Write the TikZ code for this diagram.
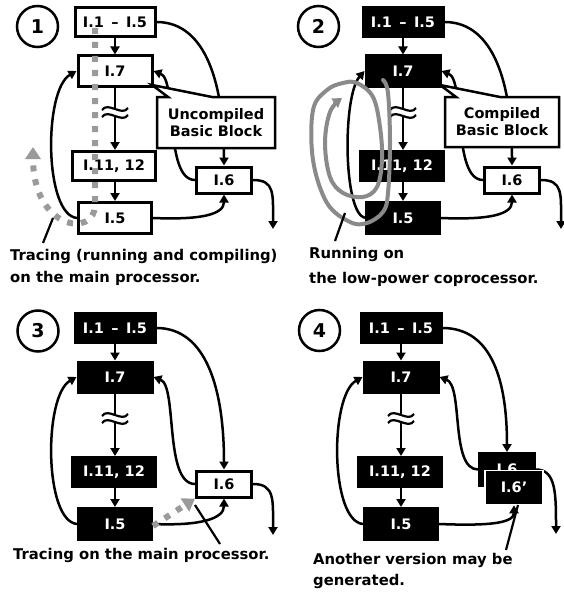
\documentclass[tikz,border=0pt]{standalone}
\usepackage{fontspec}
\setmainfont{DejaVu Sans}
\usetikzlibrary{arrows.meta,backgrounds}
\definecolor{ink}{HTML}{000000}
\definecolor{tracegray}{HTML}{9A9A9A}
\definecolor{loopgray}{HTML}{8A8A8A}
\tikzset{
  codebox/.style={draw=ink,fill=white,text=ink,line width=3pt,
                  inner sep=0pt,align=center,
                  font=\fontsize{14.5}{17}\selectfont\bfseries},
  hotbox/.style={codebox,fill=ink,text=white},
  numcirc/.style={draw=ink,circle,line width=2.5pt,minimum size=41pt,
                  inner sep=0pt,font=\fontsize{19}{19}\selectfont\bfseries},
  notetext/.style={align=left,inner sep=0pt,anchor=base west,
                   font=\fontsize{14.8}{22}\selectfont\bfseries},
  calloutln/.style={draw=ink,fill=white,line width=2.5pt,line join=miter},
  flowln/.style={line width=2.5pt,draw=ink},
  flowarr/.style={flowln,-{Triangle[length=8pt,width=9pt]}},
  breakln/.style={line width=2.2pt,draw=ink},
  ptrln/.style={line width=2.2pt,draw=ink},
  tracearr/.style={draw=tracegray,line width=6pt,line cap=butt,
                   dash pattern=on 6pt off 8pt,
                   -{Triangle[length=12pt,width=15pt]}},
  looparr/.style={draw=loopgray,line width=4pt,line cap=round,line join=round,
                  -{Triangle[length=9pt,width=11pt]}}
}
% two little waves across the line I.7 -> I.11
\newcommand{\breakmark}[1]{%
  \draw[breakln] (#1) ++(-13,1) .. controls +(6,-9) and +(-6,9) .. ++(26,-2);
  \draw[breakln] (#1) ++(-13,8) .. controls +(6,-9) and +(-6,9) .. ++(26,-2);
}
\newcommand{\range}{I.1\ \,–\ \,I.5}

\begin{document}
\begin{tikzpicture}[x=1pt,y=-1pt]
  \useasboundingbox (0,0) rectangle (563,594);
  \begin{scope}[on background layer]
    \fill[white] (0,0) rectangle (563,594);
  \end{scope}

  % ---------- 1 : tracing ----------
  \begin{scope}
    \node[numcirc] (n1) at (37.5,26.5) {1};
    \node[codebox,minimum width=80pt,minimum height=29pt] (p1a) at (115,22) {\range};
    \node[codebox,minimum width=74pt,minimum height=30pt] (p1b) at (115,71) {I.7};
    \node[codebox,minimum width=83pt,minimum height=29pt] (p1c) at (114,166) {I.11, 12};
    \node[codebox,minimum width=73pt,minimum height=31pt] (p1d) at (115,218) {I.5};
    \node[codebox,minimum width=55pt,minimum height=26pt] (p1e) at (224,180) {I.6};
    \coordinate (p1s) at (115,109);
    \coordinate (p1t) at (115,117);
    \coordinate (p1x) at (273,229);
    \begin{scope}[on background layer]
      \draw[flowarr] (p1a) -- (p1b);
      \draw[flowln] (p1b) -- (p1s);
      \draw[flowarr] (p1t) -- (p1t |- p1c.north);
      \draw[flowarr] (p1c.south -| p1d) -- (p1d);
      \draw[flowarr] (p1d.west) .. controls +(-33,-3) and +(-33,19) .. (p1b.west);
      \draw[flowarr] (p1d.east) .. controls +(48,2) and +(0,20) .. (p1e.south);
      \draw[flowarr] (p1a.east) .. controls +(50,0) and +(0,-80) .. (p1e.north);
      \draw[flowarr] (p1e.west) .. controls +(-31,0) and +(24,9) .. (p1b.east);
      \draw[flowarr] (p1e.east) .. controls +(22,0) and +(0,-35) .. (p1x);
    \end{scope}
    \breakmark{p1s}
    \draw[calloutln] (157,97) -- (168,97) -- (152,85) -- (212,97) -- (275,97)
      -- (275,148) -- (157,148) -- cycle;
    \node[codebox,draw=none,fill=none] (p1u) at (216,122.5) {Uncompiled\\Basic Block};
    \draw[tracearr] (95,28) -- (95,205) .. controls (95,238) and (33,230) .. (33,147);
    \draw[ptrln] (43,243) -- (53,218);
    \node[notetext] (p1n) at (10,282) {Tracing (running and compiling)\\on the main processor.};
  \end{scope}

  % ---------- 2 : running on coprocessor ----------
  \begin{scope}[shift={(288,0)}]
    \node[numcirc] (n2) at (30.5,26.5) {2};
    \node[hotbox,minimum width=80pt,minimum height=29pt] (p2a) at (115,22) {\range};
    \node[hotbox,minimum width=74pt,minimum height=30pt] (p2b) at (115,71) {I.7};
    \node[hotbox,minimum width=83pt,minimum height=29pt] (p2c) at (114,166) {I.11, 12};
    \node[hotbox,minimum width=73pt,minimum height=31pt] (p2d) at (115,218) {I.5};
    \node[codebox,minimum width=55pt,minimum height=26pt] (p2e) at (224,180) {I.6};
    \coordinate (p2s) at (115,109);
    \coordinate (p2t) at (115,117);
    \coordinate (p2x) at (273,229);
    \begin{scope}[on background layer]
      \draw[flowarr] (p2a) -- (p2b);
      \draw[flowln] (p2b) -- (p2s);
      \draw[flowarr] (p2t) -- (p2t |- p2c.north);
      \draw[flowarr] (p2c.south -| p2d) -- (p2d);
      \draw[flowarr] (p2d.east) .. controls +(48,2) and +(0,20) .. (p2e.south);
      \draw[flowarr] (p2a.east) .. controls +(50,0) and +(0,-80) .. (p2e.north);
      \draw[flowarr] (p2e.west) .. controls +(-31,0) and +(24,9) .. (p2b.east);
      \draw[flowarr] (p2e.east) .. controls +(22,0) and +(0,-35) .. (p2x);
    \end{scope}
    \draw[flowarr] (p2d.west) .. controls +(-22,-5) and +(-22,25) .. (p2b.west);
    \breakmark{p2s}
    \draw[calloutln] (157,97) -- (168,97) -- (152,85) -- (212,97) -- (271,97)
      -- (271,147) -- (157,147) -- cycle;
    \node[codebox,draw=none,fill=none] (p2u) at (214,122) {Compiled\\Basic Block};
    \draw[looparr] plot[smooth,tension=0.6] coordinates {
      (95,80) (100,93) (102,143) (100,193) (95,212) (79,223) (62,222)
      (39,203) (25,160) (25,110) (39,90) (55,83) (69,83) (85,97) (92,127)
      (94,160) (89,187) (75,197) (55,193) (42,177) (37,143) (42,112) (54,98)};
    \draw[ptrln] (47,241) -- (57,213);
    \node[notetext,font=\fontsize{14.8}{25}\selectfont\bfseries] (p2n) at (21,283)
      {Running on\\the low-power coprocessor.};
  \end{scope}

  % ---------- 3 : tracing I.6 ----------
  \begin{scope}[shift={(0,306)}]
    \node[numcirc] (n3) at (38,25) {3};
    \node[hotbox,minimum width=80pt,minimum height=29pt] (p3a) at (115,22) {\range};
    \node[hotbox,minimum width=74pt,minimum height=30pt] (p3b) at (115,71) {I.7};
    \node[hotbox,minimum width=83pt,minimum height=29pt] (p3c) at (114,166) {I.11, 12};
    \node[hotbox,minimum width=73pt,minimum height=31pt] (p3d) at (115,218) {I.5};
    \node[codebox,minimum width=55pt,minimum height=26pt] (p3e) at (224,178) {I.6};
    \coordinate (p3s) at (115,109);
    \coordinate (p3t) at (115,117);
    \coordinate (p3x) at (273,229);
    \begin{scope}[on background layer]
      \draw[flowarr] (p3a) -- (p3b);
      \draw[flowln] (p3b) -- (p3s);
      \draw[flowarr] (p3t) -- (p3t |- p3c.north);
      \draw[flowarr] (p3c.south -| p3d) -- (p3d);
      \draw[flowarr] (p3d.west) .. controls +(-33,-3) and +(-33,19) .. (p3b.west);
      \draw[flowarr] (p3d.east) .. controls +(48,2) and +(0,20) .. (p3e.south);
      \draw[flowarr] (p3a.east) .. controls +(50,0) and +(0,-80) .. (p3e.north);
      \draw[flowarr] (p3e.west) .. controls +(-31,0) and +(24,9) .. (p3b.east);
      \draw[flowarr] (p3e.east) .. controls +(22,0) and +(0,-35) .. (p3x);
    \end{scope}
    \breakmark{p3s}
    \draw[tracearr] ([yshift=-2pt]p3d.east) -- (p3e.south west);
    \draw[ptrln] (220,238) -- (195,199);
    \node[notetext] (p3n) at (13,253) {Tracing on the main processor.};
  \end{scope}

  % ---------- 4 : new version ----------
  \begin{scope}[shift={(286,306)}]
    \node[numcirc] (n4) at (33.5,24.5) {4};
    \node[hotbox,minimum width=80pt,minimum height=29pt] (p4a) at (115,22) {\range};
    \node[hotbox,minimum width=74pt,minimum height=30pt] (p4b) at (115,71) {I.7};
    \node[hotbox,minimum width=83pt,minimum height=29pt] (p4c) at (114,166) {I.11, 12};
    \node[hotbox,minimum width=73pt,minimum height=31pt] (p4d) at (115,218) {I.5};
    \node[hotbox,minimum width=55pt,minimum height=32pt] (p4e) at (221,163.5) {I.6};
    \node[hotbox,draw=white,line width=1.5pt,minimum width=58pt,minimum height=34pt]
      (p4f) at (228,181.5) {I.6’};
    \coordinate (p4s) at (115,109);
    \coordinate (p4t) at (115,117);
    \coordinate (p4x) at (270,228);
    \begin{scope}[on background layer]
      \draw[flowarr] (p4a) -- (p4b);
      \draw[flowln] (p4b) -- (p4s);
      \draw[flowarr] (p4t) -- (p4t |- p4c.north);
      \draw[flowarr] (p4c.south -| p4d) -- (p4d);
      \draw[flowarr] (p4d.west) .. controls +(-33,-3) and +(-33,19) .. (p4b.west);
      \draw[flowarr] (p4d.east) .. controls +(50,2) and +(0,18) .. (p4f.south);
      \draw[flowarr] (p4a.east) .. controls +(50,0) and +(0,-70) .. (p4e.north);
      \draw[flowarr] (p4e.west) .. controls +(-28,0) and +(24,9) .. (p4b.east);
      \draw[flowarr] (p4e.east) .. controls +(20,0) and +(0,-40) .. (p4x);
    \end{scope}
    \breakmark{p4s}
    \draw[ptrln] (220,244) -- (232,199);
    \node[notetext,font=\fontsize{14.8}{21}\selectfont\bfseries] (p4n) at (27,279)
      {Another version may be\\generated.};
  \end{scope}
\end{tikzpicture}
\end{document}
